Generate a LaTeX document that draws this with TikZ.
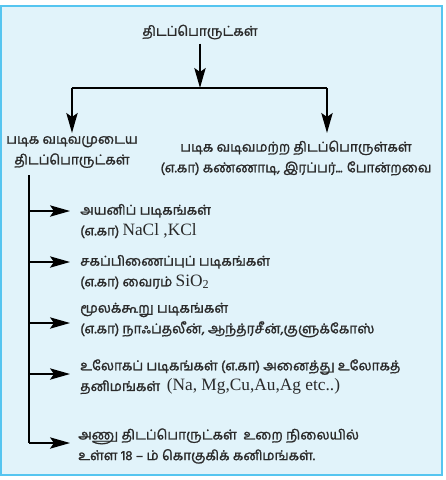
\documentclass[tikz,border=0pt]{standalone}
\usepackage{fontspec}
\newfontfamily\tam[Script=Tamil,FakeBold=1.5]{Hind Madurai}
\newfontfamily\lat{Liberation Serif}
\usetikzlibrary{arrows.meta}
\definecolor{boxfill}{HTML}{E1F3FA}
\definecolor{boxline}{HTML}{55C5F0}
\definecolor{ink}{HTML}{2A2A2A}
\tikzset{
  txt/.style={font=\tam\fontsize{10.2}{15.5}\selectfont, text=ink, inner sep=0pt, align=left},
  ctxt/.style={txt, align=center},
  ln/.style={draw=black, line width=1.1pt},
  arr/.style={ln, -{Stealth[length=15pt,width=8.5pt,inset=3pt]}},
}
\newcommand{\la}[1]{{\lat\fontsize{13}{15.5}\selectfont #1}}
\begin{document}
\begin{tikzpicture}[x=0.75pt,y=-0.75pt]
\useasboundingbox (0,0) rectangle (446,480);
\draw[fill=boxfill, draw=boxline, line width=1.6pt] (1,6) rectangle (442,475);

\node[ctxt] (root) at (200,32) {திடப்பொருட்கள்};
\coordinate (j) at (200,88);
\coordinate (hl) at (72,88);
\coordinate (hr) at (327,88);
\draw[arr] (root.south) ++(0,4) -- (j);
\draw[ln] (hl) -- (hr);

\node[ctxt] (cryst) at (72,152) {படிக வடிவமுடைய\\திடப்பொருட்கள்};
\node[ctxt] (amor) at (296,158) {படிக வடிவமற்ற திடப்பொருள்கள்\\(எ.கா) கண்ணாடி, இரப்பர்... போன்றவை};
\draw[arr] (hl) -- (72,133);
\draw[arr] (hr) -- (327,133);

\coordinate (vt) at (29,175);
\coordinate (vb) at (29,443);
\draw[ln] (vt) -- (vb);

\node[txt, anchor=west] (i1) at (80,221) {அயனிப் படிகங்கள்\\(எ.கா) \la{NaCl ,KCl}};
\node[txt, anchor=west] (i2) at (80,272) {சகப்பிணைப்புப் படிகங்கள்\\(எ.கா) வைரம் \la{SiO\textsubscript{2}}};
\node[txt, anchor=west] (i3) at (80,320) {மூலக்கூறு படிகங்கள்\\(எ.கா) நாஃப்தலீன், ஆந்த்ரசீன்,குளுக்கோஸ்};
\node[txt, anchor=west] (i4) at (80,377) {உலோகப் படிகங்கள் (எ.கா) அனைத்து உலோகத்\\தனிமங்கள்~~\la{(Na, Mg,Cu,Au,Ag etc..)}};
\node[txt, anchor=west] (i5) at (78,446) {அணு திடப்பொருட்கள்~~உறை நிலையில்\\உள்ள 18 – ம் கொகுகிக் கனிமங்கள்.};

\coordinate (b1) at (29,211);
\coordinate (b2) at (29,262);
\coordinate (b3) at (29,323);
\coordinate (b4) at (29,374);
\coordinate (b5) at (29,443);
\draw[arr] (b1) -- (70,211);
\draw[arr] (b2) -- (70,262);
\draw[arr] (b3) -- (70,323);
\draw[arr] (b4) -- (70,374);
\draw[arr] (b5) -- (70,443);
\end{tikzpicture}
\end{document}
